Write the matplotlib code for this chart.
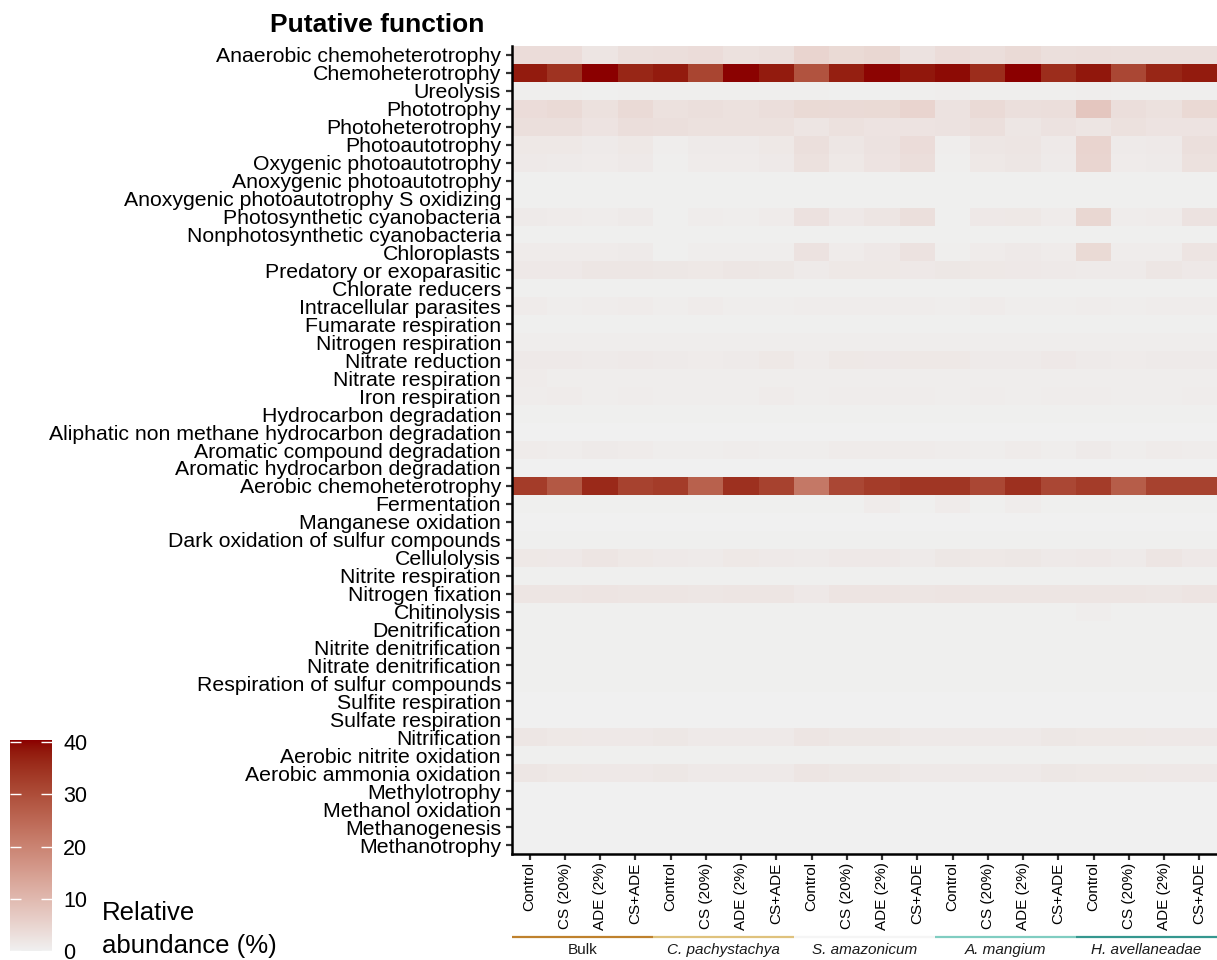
import numpy as np
import matplotlib
matplotlib.use('Agg')
import matplotlib.pyplot as plt
from matplotlib.colors import ListedColormap, Normalize, to_rgb
from matplotlib import transforms

functions = [
    "Anaerobic chemoheterotrophy", "Chemoheterotrophy", "Ureolysis", "Phototrophy",
    "Photoheterotrophy", "Photoautotrophy", "Oxygenic photoautotrophy",
    "Anoxygenic photoautotrophy", "Anoxygenic photoautotrophy S oxidizing",
    "Photosynthetic cyanobacteria", "Nonphotosynthetic cyanobacteria", "Chloroplasts",
    "Predatory or exoparasitic", "Chlorate reducers", "Intracellular parasites",
    "Fumarate respiration", "Nitrogen respiration", "Nitrate reduction",
    "Nitrate respiration", "Iron respiration", "Hydrocarbon degradation",
    "Aliphatic non methane hydrocarbon degradation", "Aromatic compound degradation",
    "Aromatic hydrocarbon degradation", "Aerobic chemoheterotrophy", "Fermentation",
    "Manganese oxidation", "Dark oxidation of sulfur compounds", "Cellulolysis",
    "Nitrite respiration", "Nitrogen fixation", "Chitinolysis", "Denitrification",
    "Nitrite denitrification", "Nitrate denitrification",
    "Respiration of sulfur compounds", "Sulfite respiration", "Sulfate respiration",
    "Nitrification", "Aerobic nitrite oxidation", "Aerobic ammonia oxidation",
    "Methylotrophy", "Methanol oxidation", "Methanogenesis", "Methanotrophy",
]

treatments = ["Control", "CS (20%)", "ADE (2%)", "CS+ADE"]
groups = ["Bulk", "C. pachystachya", "S. amazonicum", "A. mangium", "H. avellaneadae"]
group_italic = [False, True, True, True, True]
group_colors = ["#BF812D", "#DFC27D", "#F5F5F5", "#80CDC1", "#35978F"]

# relative abundance (%), one row per function, 20 columns (5 groups x 4 treatments)
abundance = [
    [3.5, 3.5, 2.0, 3.0, 3.2, 3.5, 2.8, 3.0, 5.0, 4.0, 4.5, 2.5, 3.5, 3.3, 3.8, 3.0, 3.2, 3.0, 3.0, 3.0],
    [38, 34.5, 40.3, 36.5, 38, 31.5, 40.2, 38, 29, 37.5, 40, 38.5, 39.5, 35.5, 40.3, 35.5, 38.5, 31, 36.5, 38],
    [0.4, 0.4, 0.3, 0.4, 0.4, 0.4, 0.4, 0.4, 0.4, 0.3, 0.3, 0.4, 0.5, 0.4, 0.4, 0.4, 0.6, 0.4, 0.4, 0.4],
    [3.5, 3.8, 2.8, 3.8, 2.8, 3.0, 2.8, 3.2, 4.0, 3.8, 4.0, 5.0, 2.5, 3.8, 3.0, 3.2, 7.5, 3.2, 2.8, 4.2],
    [3.0, 3.0, 2.3, 3.2, 3.0, 2.8, 2.8, 2.8, 2.0, 2.8, 2.3, 2.3, 2.5, 3.0, 1.8, 2.5, 2.0, 2.8, 2.3, 2.3],
    [1.5, 1.5, 1.0, 1.5, 0.5, 1.0, 1.0, 1.5, 3.0, 1.8, 2.5, 3.5, 0.5, 1.8, 2.0, 1.2, 5.0, 1.0, 1.2, 3.0],
    [1.2, 1.0, 0.8, 1.2, 0.4, 0.8, 0.8, 1.2, 2.8, 1.5, 2.3, 3.3, 0.4, 1.5, 1.8, 1.0, 4.8, 0.8, 1.0, 2.8],
    [0.2, 0.2, 0.2, 0.2, 0.2, 0.2, 0.2, 0.2, 0.2, 0.2, 0.2, 0.2, 0.2, 0.2, 0.2, 0.2, 0.2, 0.2, 0.2, 0.2],
    [0.2, 0.2, 0.2, 0.2, 0.2, 0.2, 0.2, 0.2, 0.2, 0.2, 0.2, 0.2, 0.2, 0.2, 0.2, 0.2, 0.2, 0.2, 0.2, 0.2],
    [1.0, 0.8, 0.7, 1.0, 0.3, 0.7, 0.5, 0.8, 2.6, 1.3, 2.0, 3.0, 0.3, 1.3, 1.5, 0.8, 4.5, 0.7, 0.8, 2.5],
    [0.3, 0.3, 0.3, 0.3, 0.3, 0.3, 0.3, 0.3, 0.3, 0.3, 0.3, 0.3, 0.3, 0.3, 0.3, 0.3, 0.3, 0.3, 0.3, 0.3],
    [0.9, 0.8, 0.8, 1.0, 0.3, 0.6, 0.6, 0.6, 2.5, 0.8, 1.3, 2.5, 0.4, 0.8, 1.2, 0.9, 4.0, 0.7, 0.7, 2.2],
    [1.3, 1.3, 1.8, 1.8, 1.6, 1.5, 1.8, 1.6, 1.0, 1.5, 1.5, 1.3, 1.6, 1.5, 1.4, 1.2, 1.0, 1.0, 1.8, 1.3],
    [0.3, 0.3, 0.3, 0.3, 0.3, 0.3, 0.3, 0.3, 0.3, 0.3, 0.3, 0.3, 0.3, 0.3, 0.3, 0.3, 0.3, 0.3, 0.3, 0.3],
    [0.8, 0.6, 0.7, 0.8, 0.5, 0.8, 0.6, 0.6, 0.7, 0.7, 0.7, 0.7, 0.6, 0.8, 0.5, 0.6, 0.7, 0.6, 0.7, 0.7],
    [0.3, 0.3, 0.3, 0.3, 0.3, 0.3, 0.3, 0.3, 0.3, 0.3, 0.3, 0.3, 0.3, 0.3, 0.3, 0.3, 0.3, 0.3, 0.3, 0.3],
    [0.6, 0.6, 0.6, 0.6, 0.5, 0.6, 0.6, 0.6, 0.6, 0.6, 0.6, 0.6, 0.6, 0.6, 0.5, 0.6, 0.6, 0.6, 0.6, 0.6],
    [1.2, 1.2, 1.0, 1.2, 1.0, 0.9, 1.0, 1.5, 0.8, 1.5, 1.3, 1.5, 1.5, 1.0, 1.0, 1.3, 1.0, 0.9, 1.0, 1.1],
    [0.8, 0.6, 0.6, 0.6, 0.5, 0.6, 0.6, 0.6, 0.5, 0.6, 0.6, 0.6, 0.6, 0.6, 0.5, 0.6, 0.6, 0.6, 0.6, 0.6],
    [0.7, 0.8, 0.6, 0.7, 0.5, 0.6, 0.6, 0.8, 0.6, 0.7, 0.7, 0.7, 0.6, 0.7, 0.5, 0.7, 0.7, 0.6, 0.6, 0.7],
    [0.2, 0.2, 0.2, 0.2, 0.2, 0.2, 0.2, 0.3, 0.2, 0.2, 0.2, 0.2, 0.2, 0.2, 0.2, 0.2, 0.2, 0.2, 0.2, 0.2],
    [0.1, 0.1, 0.1, 0.1, 0.1, 0.1, 0.1, 0.1, 0.1, 0.1, 0.1, 0.1, 0.1, 0.1, 0.1, 0.1, 0.1, 0.1, 0.1, 0.1],
    [0.9, 0.7, 1.0, 0.8, 0.6, 0.6, 0.7, 0.6, 0.6, 0.8, 0.8, 0.8, 0.7, 0.5, 0.9, 0.5, 1.1, 0.6, 0.9, 0.7],
    [0.1, 0.1, 0.1, 0.1, 0.1, 0.1, 0.1, 0.1, 0.1, 0.1, 0.1, 0.1, 0.1, 0.1, 0.1, 0.1, 0.1, 0.1, 0.1, 0.1],
    [33, 28, 36, 32, 33, 26.5, 35, 32, 22, 31, 33, 34, 34, 31, 35, 31, 33, 27, 32, 32],
    [0.3, 0.3, 0.3, 0.3, 0.3, 0.3, 0.3, 0.3, 0.3, 0.3, 0.9, 0.3, 0.9, 0.3, 0.7, 0.3, 0.3, 0.3, 0.3, 0.3],
    [0.1, 0.1, 0.1, 0.1, 0.1, 0.1, 0.1, 0.1, 0.1, 0.1, 0.1, 0.1, 0.1, 0.1, 0.1, 0.1, 0.1, 0.1, 0.1, 0.1],
    [0.2, 0.2, 0.2, 0.2, 0.2, 0.2, 0.2, 0.2, 0.2, 0.2, 0.2, 0.2, 0.2, 0.2, 0.2, 0.2, 0.2, 0.2, 0.2, 0.2],
    [1.5, 1.3, 2.0, 1.5, 1.2, 1.0, 1.5, 1.2, 1.0, 1.3, 1.3, 1.0, 1.6, 1.5, 1.6, 1.2, 1.3, 1.1, 2.0, 1.4],
    [0.3, 0.3, 0.3, 0.3, 0.3, 0.3, 0.3, 0.3, 0.3, 0.3, 0.3, 0.3, 0.3, 0.3, 0.3, 0.3, 0.3, 0.3, 0.3, 0.3],
    [2.0, 2.0, 2.2, 2.0, 2.0, 1.8, 2.0, 2.0, 1.3, 2.2, 2.2, 2.0, 2.2, 2.0, 2.0, 2.0, 2.0, 2.0, 1.8, 2.2],
    [0.3, 0.3, 0.3, 0.3, 0.3, 0.3, 0.3, 0.3, 0.3, 0.3, 0.3, 0.3, 0.3, 0.3, 0.3, 0.3, 0.6, 0.3, 0.3, 0.3],
    [0.2, 0.2, 0.2, 0.2, 0.2, 0.2, 0.2, 0.2, 0.2, 0.2, 0.2, 0.2, 0.2, 0.2, 0.2, 0.2, 0.2, 0.2, 0.2, 0.2],
    [0.2, 0.2, 0.2, 0.2, 0.2, 0.2, 0.2, 0.2, 0.2, 0.2, 0.2, 0.2, 0.2, 0.2, 0.2, 0.2, 0.2, 0.2, 0.2, 0.2],
    [0.2, 0.2, 0.2, 0.2, 0.2, 0.2, 0.2, 0.2, 0.2, 0.2, 0.2, 0.2, 0.2, 0.2, 0.2, 0.2, 0.2, 0.2, 0.2, 0.2],
    [0.2, 0.2, 0.2, 0.2, 0.2, 0.2, 0.2, 0.2, 0.2, 0.2, 0.2, 0.2, 0.2, 0.2, 0.2, 0.2, 0.2, 0.2, 0.2, 0.2],
    [0.1, 0.1, 0.1, 0.1, 0.1, 0.1, 0.1, 0.1, 0.1, 0.1, 0.1, 0.1, 0.1, 0.1, 0.1, 0.1, 0.1, 0.1, 0.1, 0.1],
    [0.1, 0.1, 0.1, 0.1, 0.1, 0.1, 0.1, 0.1, 0.1, 0.1, 0.1, 0.1, 0.1, 0.1, 0.1, 0.1, 0.1, 0.1, 0.1, 0.1],
    [1.8, 1.5, 1.3, 1.3, 1.6, 1.2, 1.2, 1.2, 2.0, 1.7, 1.6, 1.2, 1.2, 1.2, 1.2, 1.6, 1.5, 1.5, 1.3, 1.3],
    [0.3, 0.3, 0.3, 0.3, 0.3, 0.3, 0.3, 0.3, 0.3, 0.3, 0.3, 0.3, 0.3, 0.3, 0.3, 0.3, 0.3, 0.3, 0.3, 0.3],
    [1.8, 1.5, 1.3, 1.3, 1.6, 1.2, 1.2, 1.2, 2.0, 1.7, 1.6, 1.2, 1.2, 1.2, 1.2, 1.6, 1.5, 1.5, 1.3, 1.3],
    [0.1, 0.1, 0.1, 0.1, 0.1, 0.1, 0.1, 0.1, 0.1, 0.1, 0.1, 0.1, 0.1, 0.1, 0.1, 0.1, 0.1, 0.1, 0.1, 0.1],
    [0.1, 0.1, 0.1, 0.1, 0.1, 0.1, 0.1, 0.1, 0.1, 0.1, 0.1, 0.1, 0.1, 0.1, 0.1, 0.1, 0.1, 0.1, 0.1, 0.1],
    [0.05, 0.05, 0.05, 0.05, 0.05, 0.05, 0.05, 0.05, 0.05, 0.05, 0.05, 0.05, 0.05, 0.05, 0.05, 0.05, 0.05, 0.05, 0.05, 0.05],
    [0.1, 0.1, 0.1, 0.1, 0.1, 0.1, 0.1, 0.1, 0.1, 0.1, 0.1, 0.1, 0.1, 0.1, 0.1, 0.1, 0.1, 0.1, 0.1, 0.1],
]

low_color = "#F0F0F0"
high_color = "#8B0000"
vmin, vmax = 0, 40.4
cbar_ticks = [0, 10, 20, 30, 40]


# --- CIELAB gradient (like ggplot2 scale_fill_gradient) ---
WHITE = np.array([0.95047, 1.0, 1.08883])
M = np.array([[0.4124, 0.3576, 0.1805], [0.2126, 0.7152, 0.0722], [0.0193, 0.1192, 0.9505]])
Minv = np.linalg.inv(M)


def rgb2lab(rgb):
    c = np.asarray(rgb, float)
    lin = np.where(c <= 0.04045, c / 12.92, ((c + 0.055) / 1.055) ** 2.4)
    xyz = M @ lin / WHITE
    f = np.where(xyz > 0.008856, np.cbrt(xyz), 7.787 * xyz + 16 / 116)
    return np.array([116 * f[1] - 16, 500 * (f[0] - f[1]), 200 * (f[1] - f[2])])


def lab2rgb(lab):
    L, a, b = lab
    fy = (L + 16) / 116
    fx = fy + a / 500
    fz = fy - b / 200
    f = np.array([fx, fy, fz])
    xyz = np.where(f ** 3 > 0.008856, f ** 3, (f - 16 / 116) / 7.787) * WHITE
    lin = np.clip(Minv @ xyz, 0, 1)
    c = np.where(lin <= 0.0031308, 12.92 * lin, 1.055 * lin ** (1 / 2.4) - 0.055)
    return np.clip(c, 0, 1)


lab_lo = rgb2lab(to_rgb(low_color))
lab_hi = rgb2lab(to_rgb(high_color))
cols = [lab2rgb(lab_lo + t * (lab_hi - lab_lo)) for t in np.linspace(0, 1, 256)]
cmap = ListedColormap(cols)
norm = Normalize(vmin=vmin, vmax=vmax)

plt.rcParams['font.family'] = ['Liberation Sans', 'DejaVu Sans']

W, H = 1217, 960
fig = plt.figure(figsize=(W / 100, H / 100), dpi=100)

ax = fig.add_axes([512 / W, 106 / H, (W - 512) / W, 808 / H])
data = np.array(abundance, dtype=float)
ax.imshow(data, cmap=cmap, norm=norm, aspect='auto', interpolation='nearest')

n_rows, n_cols = data.shape
ax.set_yticks(range(n_rows))
ax.set_yticklabels(functions, fontsize=15.3, color='black')
ax.set_xticks(range(n_cols))
ax.set_xticklabels(treatments * len(groups), rotation=90, fontsize=11, color='black')
ax.tick_params(axis='y', length=4, width=1.6, color='#333333', pad=4)
ax.tick_params(axis='x', length=4, width=1.6, color='#333333', pad=2)
for s in ['top', 'right']:
    ax.spines[s].set_visible(False)
for s in ['left', 'bottom']:
    ax.spines[s].set_linewidth(1.8)
    ax.spines[s].set_color('black')

# group annotation lines and labels
trans = transforms.blended_transform_factory(ax.transData, fig.transFigure)
for i, (g, c, it) in enumerate(zip(groups, group_colors, group_italic)):
    x0, x1 = 4 * i - 0.5, 4 * i + 3.5
    ax.plot([x0, x1], [1 - 937 / H, 1 - 937 / H], color=c, lw=1.6,
            transform=trans, clip_on=False, solid_capstyle='butt')
    ax.text((x0 + x1) / 2, 1 - 950 / H, g, transform=trans, ha='center', va='center',
            fontsize=11, style='italic' if it else 'normal', color='#1A1A1A')

# title
fig.text(270 / W, 1 - 32 / H, "Putative function", fontsize=19, fontweight='bold',
         va='baseline', ha='left')

# colorbar
cax = fig.add_axes([10 / W, 9 / H, 42 / W, 211 / H])
grad = np.linspace(vmin, vmax, 256).reshape(-1, 1)
cax.imshow(grad, cmap=cmap, norm=norm, aspect='auto', origin='lower',
           extent=[0, 1, vmin, vmax], interpolation='bilinear')
cax.set_xticks([])
cax.set_yticks(cbar_ticks)
cax.set_yticklabels([str(t) for t in cbar_ticks], fontsize=15.5)
cax.tick_params(axis='y', left=True, right=True, labelleft=False, labelright=True,
                direction='in', length=8, width=1, color='white', pad=8)
for s in cax.spines.values():
    s.set_visible(False)

fig.text(102 / W, 1 - 920 / H, "Relative", fontsize=18.5, va='baseline', ha='left')
fig.text(102 / W, 1 - 953 / H, "abundance (%)", fontsize=18.5, va='baseline', ha='left')

fig.savefig('out.png', dpi=100)
